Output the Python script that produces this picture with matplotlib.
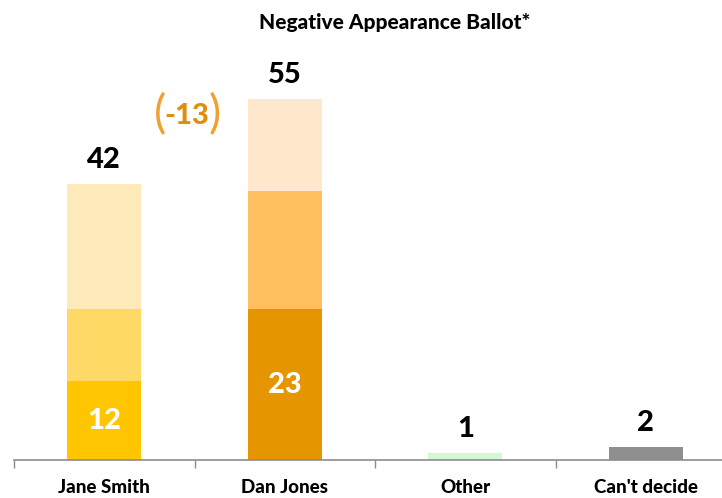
import matplotlib
matplotlib.use("Agg")
import matplotlib.pyplot as plt
from matplotlib.ticker import FixedLocator, NullFormatter, FixedFormatter

plt.rcParams['font.family'] = ['Lato', 'DejaVu Sans']

categories = ["Jane Smith", "Dan Jones", "Other", "Can't decide"]
jane_segments = [12, 11, 19]
dan_segments = [23, 18, 14]
other_value = 1
cant_decide_value = 2
totals = [42, 55, 1, 2]
inner_labels = {0: 12, 1: 23}
gap_label = "-13"
title = "Negative Appearance Ballot*"

jane_colors = ["#FFC600", "#FFD966", "#FFEBBA"]
dan_colors = ["#E59500", "#FFBF5F", "#FFE8CC"]
other_color = "#D4F7D4"
cant_color = "#8F8F8F"

W, H = 722, 498
fig = plt.figure(figsize=(W / 100, H / 100), dpi=100)
ax_left = 14 / W
ax_bottom = (H - 460) / H
ax = fig.add_axes([ax_left, ax_bottom, 722 / W, (460 - 66) / H])
ymax = (460 - 66) / 6.565
ax.set_xlim(-0.5, 3.5)
ax.set_ylim(0, ymax)

bw = 0.41
bottom = 0
for v, c in zip(jane_segments, jane_colors):
    ax.bar(0, v, bw, bottom=bottom, color=c, edgecolor='none')
    bottom += v
bottom = 0
for v, c in zip(dan_segments, dan_colors):
    ax.bar(1, v, bw, bottom=bottom, color=c, edgecolor='none')
    bottom += v
ax.bar(2, other_value, bw, color=other_color, edgecolor='none')
ax.bar(3, cant_decide_value, bw, color=cant_color, edgecolor='none')

W8 = 'black'
for i, t in enumerate(totals):
    ax.annotate(str(t), (i, t), xytext=(0, 8), textcoords='offset points',
                ha='center', va='bottom', fontsize=21, fontweight=W8, color='black')
for i, v in inner_labels.items():
    ax.text(i, v / 2, str(v), ha='center', va='center', fontsize=21,
            fontweight=W8, color='white')

# gap annotation
ax.text(0.458, 52.4, gap_label, ha='center', va='center', fontsize=21,
        fontweight=W8, color='#E08E0B')
ax.text(0.31, 52.6, "(", ha='center', va='center', fontsize=33,
        fontweight='normal', color='#F0A030')
ax.text(0.612, 52.6, ")", ha='center', va='center', fontsize=33,
        fontweight='normal', color='#F0A030')

for s in ['top', 'right', 'left']:
    ax.spines[s].set_visible(False)
ax.spines['bottom'].set_color('#8C8C8C')
ax.spines['bottom'].set_linewidth(1.2)
ax.set_yticks([])
ax.xaxis.set_major_locator(FixedLocator([-0.5, 0.5, 1.5, 2.5, 3.5]))
ax.xaxis.set_major_formatter(NullFormatter())
ax.xaxis.set_minor_locator(FixedLocator([0, 1, 2, 3]))
ax.xaxis.set_minor_formatter(FixedFormatter(categories))
ax.tick_params(axis='x', which='major', length=6, width=1, color='#8C8C8C', direction='out')
ax.tick_params(axis='x', which='minor', length=0, pad=14, labelsize=13.5)
for lab in ax.get_xticklabels(minor=True):
    lab.set_fontweight(W8)

fig.text(395 / W, 1 - 22 / H, title, ha='center', va='center', fontsize=15,
         fontweight=W8, color='black')

fig.savefig("out.png", dpi=100)
